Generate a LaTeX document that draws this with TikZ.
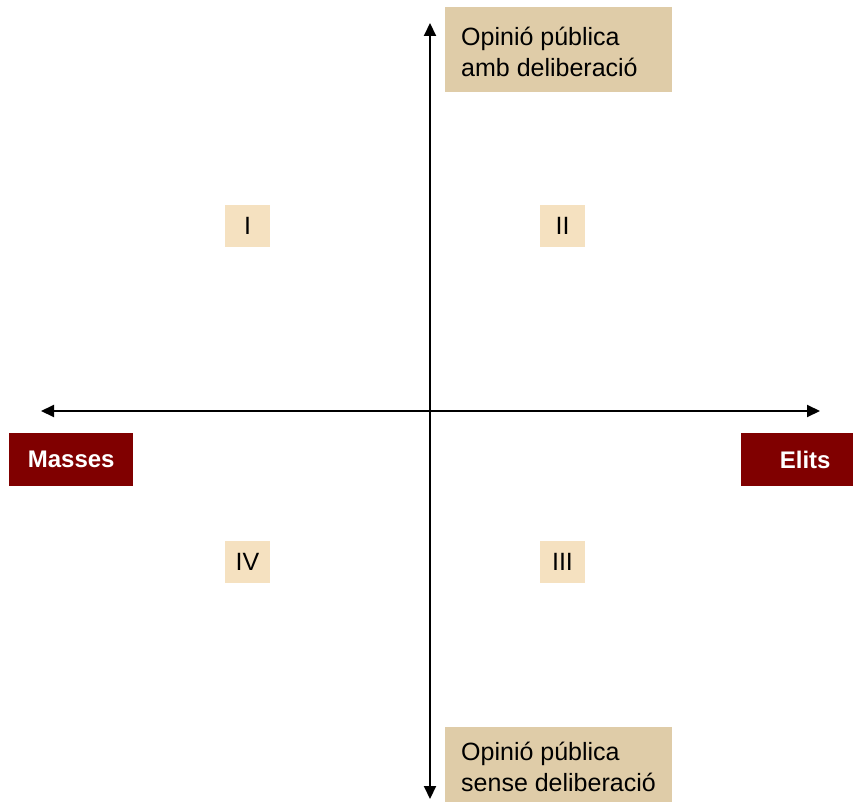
\documentclass[tikz,border=0pt]{standalone}
\usepackage{fontspec}
\setmainfont{Liberation Sans}
\usetikzlibrary{arrows.meta}
\definecolor{tanbox}{HTML}{DFCCA8}
\definecolor{wheatbox}{HTML}{F5E1C0}
\definecolor{darkred}{HTML}{800000}
\tikzset{
  axis/.style={line width=2pt,{Triangle[length=13pt,width=12pt]}-{Triangle[length=13pt,width=12pt]}},
  opbox/.style={fill=tanbox,draw=none,anchor=north west,minimum width=227pt,minimum height=85pt,inner sep=0pt},
  optext/.style={anchor=west,inner sep=0pt,align=left,font=\fontsize{25}{31}\selectfont},
  polebox/.style={fill=darkred,draw=none,anchor=north west,minimum height=53pt,text=white,font=\fontsize{24}{28}\selectfont\bfseries},
  quad/.style={fill=wheatbox,draw=none,minimum width=45pt,minimum height=42pt,inner sep=0pt,font=\fontsize{25}{30}\selectfont}
}
\begin{document}
\begin{tikzpicture}[x=1pt,y=-1pt]
\useasboundingbox (0,0) rectangle (853,805);
\coordinate (vtop) at (430,23);
\coordinate (vbot) at (430,799);
\coordinate (hleft) at (41,411);
\coordinate (hright) at (820,411);
\draw[axis] (vbot) -- (vtop);
\draw[axis] (hleft) -- (hright);
\node[opbox] (top) at (445,7) {};
\node[optext] (toptext) at ([xshift=16pt,yshift=-2pt]top.west) {Opinió pública\\amb deliberació};
\node[opbox,minimum height=75pt] (bot) at (445,727) {};
\node[optext] (bottext) at ([xshift=16pt,yshift=-2pt]bot.west) {Opinió pública\\sense deliberació};
\node[polebox,minimum width=124pt] (masses) at (9,433) {Masses};
\node[polebox,minimum width=112pt] (elits) at (741,433) {\hspace*{16pt}Elits};
\node[quad] (q1) at (247.5,226) {I};
\node[quad] (q2) at (562.5,226) {II};
\node[quad] (q3) at (562.5,561.5) {III};
\node[quad] (q4) at (247.5,561.5) {IV};
\end{tikzpicture}
\end{document}
